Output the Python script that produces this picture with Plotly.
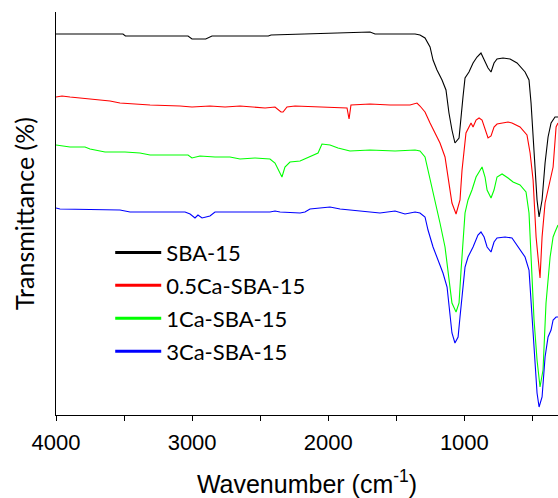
import plotly.graph_objects as go

# ---- data ----
sba15_wn = [4000, 3508, 3490, 3030, 3001, 2900, 2854, 2440, 2420, 2171, 1987, 1818, 1693, 1656, 1473, 1362, 1326, 1289, 1252, 1230,
            1201, 1164, 1135, 1113, 1091, 1069, 1039, 1024, 1010, 995, 966, 936, 907, 878, 855, 826, 804, 782, 760, 716,
            664, 613, 554, 525, 510, 495, 481, 466, 451, 437, 429, 407, 385, 363, 334, 312]
sba15_t = [381, 381, 379, 379, 376, 376, 379, 379, 380, 381, 382, 383, 383, 381, 381, 381, 380, 377, 368, 355,
           345, 335, 325, 302, 285, 272, 277, 295, 318, 337, 343, 352, 358, 362, 356, 347, 343, 352, 356, 357,
           356, 352, 343, 335, 312, 278, 245, 215, 198, 212, 215, 252, 278, 292, 298, 298]

ca05_wn = [4000, 3956, 3897, 3750, 3603, 3530, 3309, 3089, 3001, 2869, 2758, 2648, 2538, 2464, 2391, 2347, 2332, 2303, 2244, 1950,
           1862, 1847, 1833, 1693, 1546, 1399, 1348, 1326, 1289, 1252, 1215, 1179, 1142, 1120, 1091, 1061, 1032, 1017, 1002, 988,
           951, 936, 914, 892, 870, 848, 826, 804, 782, 760, 716, 679, 650, 591, 540, 517, 495, 473, 444, 429,
           407, 348, 326, 312]
ca05_t = [318, 319, 318, 316, 314, 312, 310, 309, 308, 309, 308, 309, 308, 307, 308, 303, 303, 308, 309, 308,
          307, 296, 310, 311, 310, 310, 312, 309, 303, 292, 282, 272, 258, 238, 212, 201, 215, 245, 262, 282,
          292, 288, 295, 297, 295, 285, 277, 279, 288, 291, 292, 293, 292, 288, 280, 262, 235, 178, 137, 178,
          212, 248, 288, 292]

ca1_wn = [4000, 3897, 3787, 3750, 3640, 3493, 3383, 3309, 3030, 3001, 2942, 2832, 2722, 2648, 2538, 2428, 2391, 2340, 2318, 2281,
          2207, 2134, 2075, 2046, 1987, 1928, 1840, 1693, 1509, 1362, 1326, 1289, 1267, 1238, 1215, 1179, 1142, 1113, 1091, 1061,
          1039, 1024, 1010, 995, 973, 944, 914, 870, 848, 833, 804, 782, 760, 723, 679, 642, 591, 547, 525, 510,
          488, 466, 444, 422, 400, 370, 348, 334, 312]
ca1_t = [270, 268, 268, 266, 263, 263, 262, 260, 260, 257, 259, 258, 258, 256, 257, 256, 252, 238, 248, 253,
         254, 258, 262, 271, 270, 267, 264, 265, 264, 265, 264, 258, 245, 228, 212, 192, 168, 135, 112, 103,
         112, 145, 178, 202, 215, 225, 238, 248, 238, 225, 217, 225, 238, 241, 237, 233, 230, 223, 202, 152,
         95, 55, 28, 45, 112, 158, 178, 183, 190]

ca3_wn = [4000, 3971, 3530, 3456, 3052, 3015, 2979, 2957, 2927, 2869, 2832, 2648, 2428, 2391, 2354, 2207, 2171, 2134, 1987, 1913,
          1767, 1620, 1509, 1436, 1362, 1326, 1289, 1267, 1230, 1193, 1157, 1127, 1105, 1091, 1069, 1046, 1032, 1010, 995, 973,
          936, 900, 878, 855, 833, 804, 782, 760, 701, 650, 613, 554, 525, 510, 488, 466, 451, 429, 407, 385,
          363, 348, 326, 312]
ca3_t = [207, 206, 205, 203, 203, 201, 197, 200, 197, 199, 203, 203, 203, 204, 203, 202, 203, 206, 208, 206,
         204, 202, 204, 201, 203, 202, 198, 185, 168, 155, 142, 128, 102, 82, 72, 78, 98, 128, 148, 158,
         168, 180, 183, 178, 168, 163, 173, 177, 178, 177, 170, 158, 145, 112, 62, 22, 8, 18, 58, 78,
         85, 95, 98, 98]

names = ["SBA-15", "0.5Ca-SBA-15", "1Ca-SBA-15", "3Ca-SBA-15"]
colors = ["#000000", "#FF0000", "#00FF00", "#0000FF"]
series = [(sba15_wn, sba15_t), (ca05_wn, ca05_t), (ca1_wn, ca1_t), (ca3_wn, ca3_t)]

fig = go.Figure()
for (wn, t), name, c in zip(series, names, colors):
    fig.add_trace(go.Scatter(x=wn, y=t, mode="lines", name=name, showlegend=False,
                             line=dict(color=c, width=1.1)))
# legend entries (thicker lines, like the reference legend)
for name, c in zip(names, colors):
    fig.add_trace(go.Scatter(x=[None], y=[None], mode="lines", name=name, legendgroup=name,
                             line=dict(color=c, width=3)))

fig.update_layout(
    width=558, height=498,
    margin=dict(l=56, r=0, t=12, b=83),
    paper_bgcolor="white", plot_bgcolor="white",
    showlegend=True,
    legend=dict(x=0.108, y=0.455, xanchor="left", yanchor="top",
                bgcolor="rgba(0,0,0,0)", itemwidth=46, tracegroupgap=1.3,
                font=dict(family="Lato", size=22, color="black")),
    xaxis=dict(range=[4000, 312], dtick=1000, tick0=0, showgrid=False, zeroline=False,
               showline=True, linecolor="black", linewidth=1,
               ticks="outside", ticklen=5, tickcolor="black", tickwidth=1,
               ticklabelstandoff=3,
               minor=dict(dtick=500, tick0=0, ticks="outside", ticklen=5, tickcolor="black", tickwidth=1, showgrid=False),
               tickfont=dict(family="Liberation Sans", size=22, color="black"),
               title=dict(text="Wavenumber (cm<sup>-1</sup>)", standoff=26,
                          font=dict(family="Liberation Sans", size=25, color="black"))),
    yaxis=dict(range=[0, 403], showgrid=False, zeroline=False, showticklabels=False, ticks="",
               showline=True, linecolor="black", linewidth=1,
               title=dict(text="Transmittance (%)", standoff=13,
                          font=dict(family="Lato", size=25, color="black"))),
)

fig.write_html("out.html")
